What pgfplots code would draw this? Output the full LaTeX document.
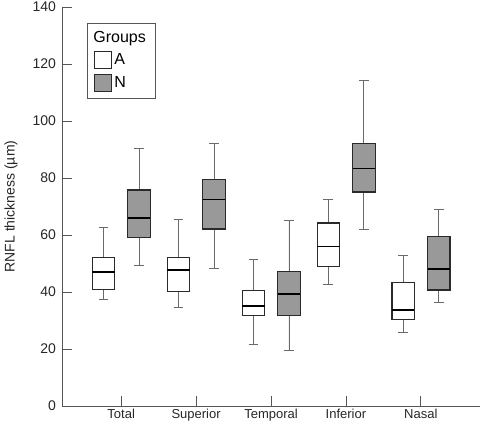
\documentclass[border=0pt]{standalone}
\usepackage{fontspec}
\setmainfont{Liberation Sans}
\usepackage{pgfplots}
\pgfplotsset{compat=1.18}
\usepgfplotslibrary{statistics}
\definecolor{boxgray}{HTML}{999999}
\definecolor{edge}{HTML}{2A2A2A}
\definecolor{whisk}{HTML}{6A6A6A}
\definecolor{axgray}{HTML}{555555}
\begin{document}
\begin{tikzpicture}
\begin{axis}[
  name=ax,
  scale only axis, width=418pt, height=399pt,
  xmin=0.21, xmax=5.79, ymin=0, ymax=140,
  axis lines*=left,
  axis line style={axgray, line width=0.8pt},
  tick style={axgray, line width=0.8pt},
  tick align=inside, major tick length=10pt,
  xtick={1,2,3,4,5},
  xticklabels={Total,Superior,Temporal,Inferior,Nasal},
  ytick={0,20,...,140},
  xticklabel style={font=\fontsize{13}{15}\selectfont, text=black!85},
  yticklabel style={font=\fontsize{14}{16}\selectfont, text=black!85, xshift=-2.5pt},
  /pgf/number format/assume math mode=true,
  ylabel={RNFL thickness (µm)},
  ylabel style={font=\fontsize{14}{16}\selectfont, text=black!85,
    at={(axis description cs:0,0.5)}, anchor=center, rotate=0, yshift=51pt},
  boxplot/draw direction=y,
  legend style={at={(rel axis cs:0.06,0.96)}, anchor=north west,
    draw=axgray, line width=0.6pt, font=\fontsize{16}{18}\selectfont,
    row sep=5pt, inner xsep=7pt, inner ysep=6pt},
  legend cell align=left,
]
% legend
\addlegendimage{empty legend}\addlegendentry{\hspace{-21pt}Groups}
\addlegendimage{legend image code/.code={\draw[draw=edge,line width=1pt,fill=white] (0pt,-8.5pt) rectangle (17pt,8.5pt);}}\addlegendentry{A}
\addlegendimage{legend image code/.code={\draw[draw=edge,line width=1pt,fill=boxgray] (0pt,-8.5pt) rectangle (17pt,8.5pt);}}\addlegendentry{N}
\pgfplotsset{
  boxA/.style={solid, draw=edge, line width=1.1pt, fill=white,
    boxplot/box extend=0.3, boxplot/whisker extend=0.13,
    boxplot/every median/.style={draw=black, line width=1.6pt},
    boxplot/every whisker/.style={draw=whisk, line width=0.8pt}},
  boxN/.style={boxA, fill=boxgray},
}
% Group A (white)
\addplot+[boxA, mark=none, boxplot prepared={draw position=0.765, lower whisker=37.3, lower quartile=40.8, median=47.1, upper quartile=52.0, upper whisker=62.5}] coordinates {};
\addplot+[boxA, mark=none, boxplot prepared={draw position=1.765, lower whisker=34.5, lower quartile=40.1, median=47.7, upper quartile=52.0, upper whisker=65.4}] coordinates {};
\addplot+[boxA, mark=none, boxplot prepared={draw position=2.765, lower whisker=21.5, lower quartile=31.6, median=35.1, upper quartile=40.6, upper whisker=51.5}] coordinates {};
\addplot+[boxA, mark=none, boxplot prepared={draw position=3.765, lower whisker=42.7, lower quartile=49.1, median=55.9, upper quartile=64.2, upper whisker=72.5}] coordinates {};
\addplot+[boxA, mark=none, boxplot prepared={draw position=4.765, lower whisker=26.0, lower quartile=30.2, median=33.6, upper quartile=43.4, upper whisker=52.7}] coordinates {};
% Group N (gray)
\addplot+[boxN, mark=none, boxplot prepared={draw position=1.24, lower whisker=49.2, lower quartile=59.1, median=66.0, upper quartile=75.8, upper whisker=90.5}] coordinates {};
\addplot+[boxN, mark=none, boxplot prepared={draw position=2.24, lower whisker=48.4, lower quartile=62.1, median=72.4, upper quartile=79.4, upper whisker=92.2}] coordinates {};
\addplot+[boxN, mark=none, boxplot prepared={draw position=3.24, lower whisker=19.4, lower quartile=31.7, median=39.3, upper quartile=47.3, upper whisker=65.2}] coordinates {};
\addplot+[boxN, mark=none, boxplot prepared={draw position=4.24, lower whisker=62.1, lower quartile=75.1, median=83.4, upper quartile=92.2, upper whisker=114.3}] coordinates {};
\addplot+[boxN, mark=none, boxplot prepared={draw position=5.24, lower whisker=36.4, lower quartile=40.7, median=48.1, upper quartile=59.4, upper whisker=69.1}] coordinates {};
\end{axis}
\pgfresetboundingbox
\path ([xshift=-62pt,yshift=-22pt]ax.south west) rectangle ([yshift=7pt]ax.north east);
\end{tikzpicture}
\end{document}
